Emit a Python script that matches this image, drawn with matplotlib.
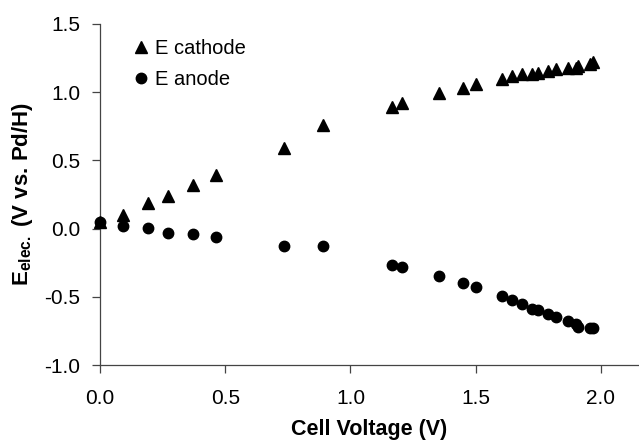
import matplotlib
matplotlib.use("Agg")
import matplotlib.pyplot as plt

plt.rcParams['font.family'] = ['Liberation Sans', 'DejaVu Sans']
plt.rcParams['axes.unicode_minus'] = False
plt.rcParams['mathtext.fontset'] = 'custom'
plt.rcParams['mathtext.rm'] = 'Liberation Sans'
plt.rcParams['mathtext.bf'] = 'Liberation Sans:bold'

cell_voltage = [0.0, 0.09, 0.19, 0.27, 0.37, 0.465, 0.735, 0.89, 1.165, 1.205,
                1.355, 1.45, 1.50, 1.605, 1.645, 1.685, 1.725, 1.75, 1.79, 1.82,
                1.87, 1.90, 1.91, 1.955, 1.97]
e_cathode = [0.05, 0.10, 0.19, 0.24, 0.32, 0.395, 0.59, 0.756, 0.89, 0.92,
             0.995, 1.03, 1.06, 1.10, 1.12, 1.13, 1.134, 1.14, 1.155, 1.17,
             1.18, 1.18, 1.19, 1.21, 1.225]
e_anode = [0.05, 0.02, 0.005, -0.03, -0.04, -0.06, -0.13, -0.13, -0.266, -0.285,
           -0.346, -0.40, -0.427, -0.495, -0.52, -0.55, -0.59, -0.60, -0.625, -0.645,
           -0.68, -0.70, -0.72, -0.73, -0.73]

x_ticks = [0.0, 0.5, 1.0, 1.5, 2.0]
y_ticks = [-1.0, -0.5, 0.0, 0.5, 1.0, 1.5]

fig = plt.figure(figsize=(6.39, 4.44), dpi=100)
ax = fig.add_axes([100/639, 1-365/444, 1-100/639, 341/444])

ax.plot(cell_voltage, e_cathode, linestyle='none', marker='^', markersize=8.5,
        color='black', label='E cathode', clip_on=False, zorder=3)
ax.plot(cell_voltage, e_anode, linestyle='none', marker='o', markersize=7.5,
        color='black', label='E anode', clip_on=False, zorder=3)

ax.set_xlim(0, 2.152)
ax.set_ylim(-1.0, 1.5)
ax.set_xticks(x_ticks)
ax.set_yticks(y_ticks)
ax.set_xticklabels([f'{t:.1f}' for t in x_ticks])
ax.set_yticklabels([f'{t:.1f}' for t in y_ticks])

for s in ['top', 'right']:
    ax.spines[s].set_visible(False)
for s in ['left', 'bottom']:
    ax.spines[s].set_color('#444444')
    ax.spines[s].set_linewidth(0.9)

ax.tick_params(axis='both', direction='out', length=6, width=0.9, color='#444444',
               labelsize=15, pad=8)
ax.tick_params(axis='x', pad=11)

ax.set_xlabel('Cell Voltage (V)', fontsize=15.5, fontweight='bold', labelpad=8)
ax.set_ylabel(r'E$_{\mathbf{elec.}}$ (V vs. Pd/H)', fontsize=16, fontweight='bold', labelpad=7)

leg = ax.legend(loc='upper left', bbox_to_anchor=(0.0575, 0.955), frameon=False,
                fontsize=14.5, handlelength=1.0, handletextpad=0.2,
                borderpad=0, borderaxespad=0, labelspacing=0.6, numpoints=1)

fig.savefig('out.png', dpi=100)
